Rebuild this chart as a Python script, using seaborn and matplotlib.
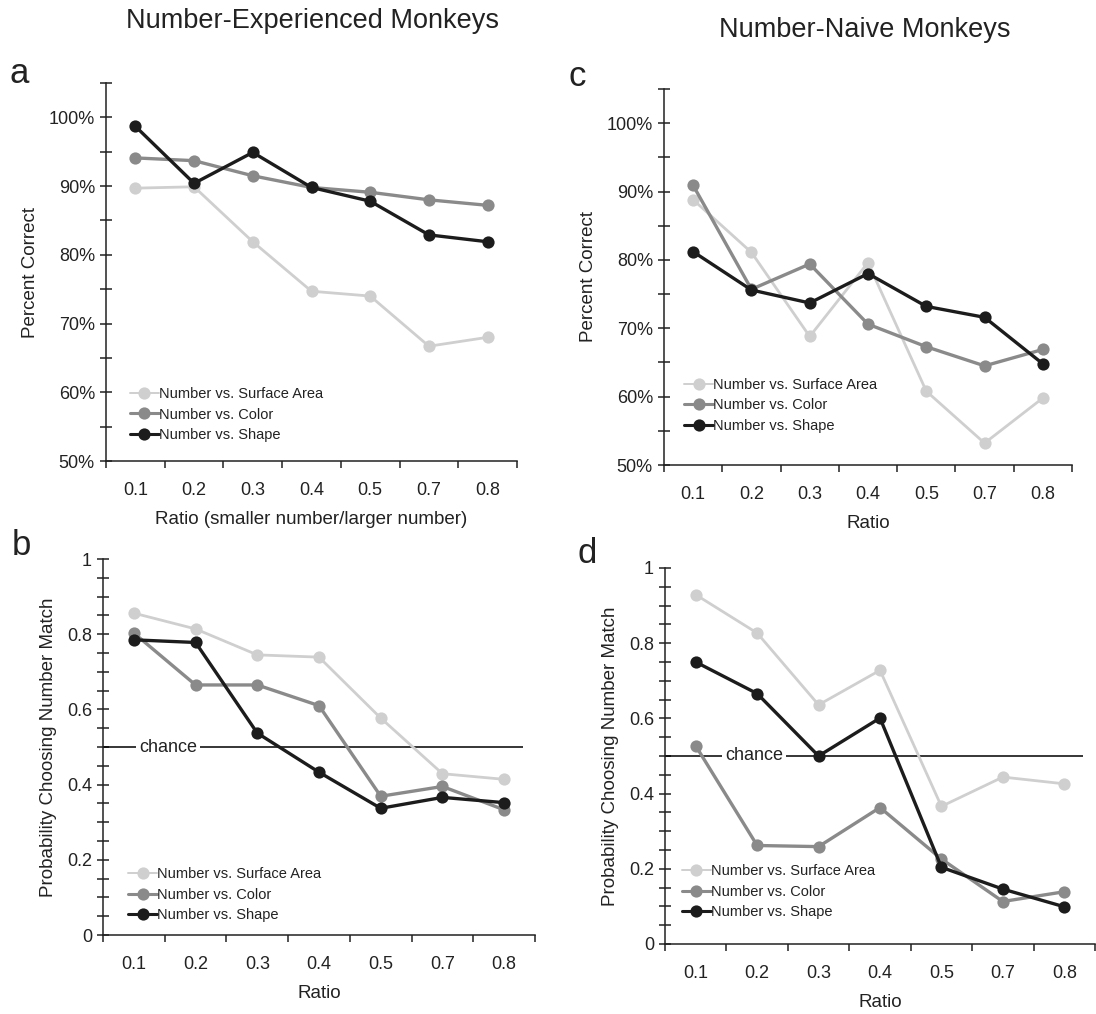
import numpy as np
import pandas as pd
import matplotlib
matplotlib.use("Agg")
import matplotlib.pyplot as plt
import seaborn as sns

# ---- data ----
ratios = ["0.1", "0.2", "0.3", "0.4", "0.5", "0.7", "0.8"]
series = ["Number vs. Surface Area", "Number vs. Color", "Number vs. Shape"]

# a: number-experienced, percent correct
exp_pct_surface = [89.7, 89.9, 81.9, 74.7, 74.0, 66.7, 68.0]
exp_pct_color = [94.1, 93.7, 91.5, 89.8, 89.1, 88.0, 87.2]
exp_pct_shape = [98.7, 90.4, 94.9, 89.8, 87.8, 82.9, 81.9]

# c: number-naive, percent correct
naive_pct_surface = [88.8, 81.1, 68.8, 79.6, 60.8, 53.2, 59.8]
naive_pct_color = [90.9, 75.7, 79.4, 70.6, 67.3, 64.5, 66.9]
naive_pct_shape = [81.2, 75.6, 73.7, 78.0, 73.2, 71.6, 64.8]

# b: number-experienced, probability choosing number match
exp_prob_surface = [0.856, 0.814, 0.745, 0.739, 0.577, 0.429, 0.414]
exp_prob_color = [0.803, 0.665, 0.665, 0.610, 0.369, 0.395, 0.333]
exp_prob_shape = [0.785, 0.778, 0.537, 0.433, 0.337, 0.366, 0.352]

# d: number-naive, probability choosing number match
naive_prob_surface = [0.929, 0.827, 0.636, 0.728, 0.366, 0.444, 0.426]
naive_prob_color = [0.527, 0.262, 0.259, 0.363, 0.226, 0.113, 0.139]
naive_prob_shape = [0.750, 0.666, 0.500, 0.601, 0.204, 0.146, 0.099]

chance = 0.5

colors = ["#cfcfcf", "#8a8a8a", "#1c1c1c"]
widths = [2.0, 2.4, 2.4]

sns.set_style("ticks")
plt.rcParams["font.family"] = ["Liberation Sans", "DejaVu Sans"]
plt.rcParams["text.color"] = "#222222"
plt.rcParams["axes.labelcolor"] = "#222222"
plt.rcParams["xtick.color"] = "#222222"
plt.rcParams["ytick.color"] = "#222222"

W, H = 1096, 1014
fig = plt.figure(figsize=(W / 100, H / 100), dpi=100)


def px_rect(left, top, right, bottom):
    return [left / W, 1 - bottom / H, (right - left) / W, (bottom - top) / H]


def make_df(values):
    rows = []
    for name, vals in zip(series, values):
        for i, v in enumerate(vals):
            rows.append({"pos": i, "value": v, "series": name})
    return pd.DataFrame(rows)


def draw_panel(rect, values, ylim, major, minor, fmt, ylabel, xlabel,
               leg_anchor, show_chance=False, chance_x=0.5):
    ax = fig.add_axes(rect)
    df = make_df(values)
    for name, c, lw in zip(series, colors, widths):
        sub = df[df["series"] == name]
        sns.lineplot(data=sub, x="pos", y="value", ax=ax, color=c, linewidth=lw,
                     marker="o", markersize=8.8, markeredgewidth=0, label=name)
    if show_chance:
        ax.hlines(chance, -0.5, 6.3, color="black", linewidth=1.1, zorder=1)
        ax.text(chance_x, chance, "chance", ha="center", va="center", fontsize=13,
                bbox=dict(facecolor="white", edgecolor="none", pad=2), zorder=2)
    ax.set_xlim(-0.5, 6.5)
    ax.set_ylim(*ylim)
    ax.set_xticks(np.arange(-0.5, len(ratios), 1))
    ax.set_xticklabels([])
    ax.set_xticks(np.arange(len(ratios)), minor=True)
    ax.set_xticklabels(ratios, minor=True, fontsize=13)
    ax.tick_params(axis="x", which="major", direction="out", length=5, width=1.1)
    ax.tick_params(axis="x", which="minor", length=0, pad=15)
    ax.set_yticks(major)
    ax.set_yticklabels([fmt(v) for v in major], fontsize=13)
    ax.set_yticks(minor, minor=True)
    ax.tick_params(axis="y", which="both", direction="inout", length=8, width=1.1, pad=4)
    ax.set_ylabel(ylabel, fontsize=13.5, labelpad=7)
    ax.set_xlabel(xlabel, fontsize=13.5, labelpad=9)
    for s in ["top", "right"]:
        ax.spines[s].set_visible(False)
    for s in ["left", "bottom"]:
        ax.spines[s].set_linewidth(1.1)
        ax.spines[s].set_color("#222222")
    leg = ax.legend(loc="lower left", bbox_to_anchor=leg_anchor, frameon=False,
                    fontsize=10.5, handlelength=2.0, handletextpad=0.0, labelspacing=0.45,
                    borderpad=0, borderaxespad=0)
    for h, lw in zip(leg.legend_handles, [1.4, 2.2, 2.2]):
        h.set_linewidth(lw)
    return ax


pct_fmt = lambda v: f"{int(round(v))}%"
prob_fmt = lambda v: "0" if v == 0 else ("1" if v == 1 else f"{v:.1f}")

draw_panel(px_rect(106, 83, 517, 461),
           [exp_pct_surface, exp_pct_color, exp_pct_shape],
           (50, 105), np.arange(50, 101, 10), np.arange(50, 106, 5), pct_fmt,
           "Percent Correct", "Ratio (smaller number/larger number)", (0.058, 0.05))

draw_panel(px_rect(664, 89, 1072, 465),
           [naive_pct_surface, naive_pct_color, naive_pct_shape],
           (50, 105), np.arange(50, 101, 10), np.arange(50, 106, 5), pct_fmt,
           "Percent Correct", "Ratio", (0.049, 0.085))

draw_panel(px_rect(103, 559, 535, 935),
           [exp_prob_surface, exp_prob_color, exp_prob_shape],
           (0, 1), np.arange(0, 1.01, 0.2), np.arange(0, 1.01, 0.05), prob_fmt,
           "Probability Choosing Number Match", "Ratio", (0.058, 0.034),
           show_chance=True, chance_x=0.55)

draw_panel(px_rect(665, 568, 1095, 944),
           [naive_prob_surface, naive_prob_color, naive_prob_shape],
           (0, 1), np.arange(0, 1.01, 0.2), np.arange(0, 1.01, 0.05), prob_fmt,
           "Probability Choosing Number Match", "Ratio", (0.039, 0.066),
           show_chance=True, chance_x=0.95)

fig.text(312 / W, 1 - 28 / H, "Number-Experienced Monkeys", ha="center", va="baseline", fontsize=19.5)
fig.text(865 / W, 1 - 37 / H, "Number-Naive Monkeys", ha="center", va="baseline", fontsize=19.5)
for letter, x, y in [("a", 19, 83), ("b", 21, 555), ("c", 577, 86), ("d", 587, 563)]:
    fig.text(x / W, 1 - y / H, letter, ha="center", va="baseline", fontsize=25)

fig.savefig("out.png", dpi=100)
